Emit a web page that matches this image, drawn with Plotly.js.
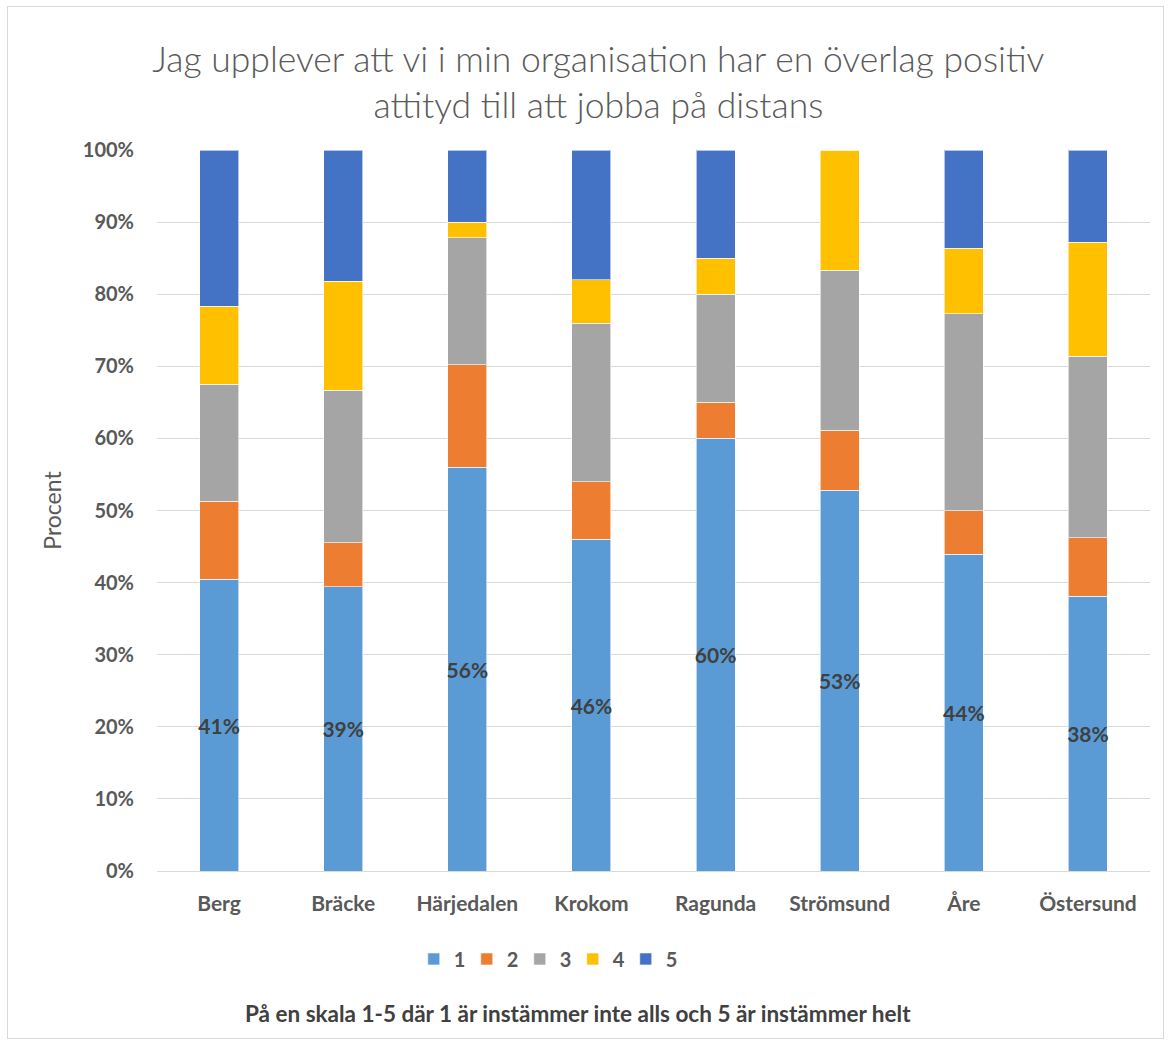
<!DOCTYPE html>
<html>
<head>
<meta charset="utf-8">
<script src="https://cdn.plot.ly/plotly-3.0.1.min.js"></script>
<style>
html,body{margin:0;padding:0;background:#fff;}
#chart{width:1171px;height:1044px;}
#frame{position:absolute;left:7px;top:6px;width:1157px;height:1033px;border:1.5px solid #D9D9D9;pointer-events:none;box-sizing:border-box;}
</style>
</head>
<body>
<div id="chart"></div>
<div id="frame"></div>
<script>
const categories = ["Berg","Bräcke","Härjedalen","Krokom","Ragunda","Strömsund","Åre","Östersund"];
const seriesNames = ["1","2","3","4","5"];
const s1 = [40.5, 39.4, 56.0, 46.0, 60.0, 52.8, 43.9, 38.1];
const s2 = [10.8, 6.1, 14.2, 8.0, 5.0, 8.3, 6.1, 8.1];
const s3 = [16.2, 21.2, 17.6, 22.0, 15.0, 22.2, 27.3, 25.2];
const s4 = [10.8, 15.1, 2.2, 6.0, 5.0, 16.7, 9.1, 15.8];
const s5 = [21.7, 18.2, 10.0, 18.0, 15.0, 0.0, 13.6, 12.8];
const colors = ["#5B9BD5","#ED7D31","#A5A5A5","#FFC000","#4472C4"];
const allSeries = [s1,s2,s3,s4,s5];

const FONT = "Lato, 'Open Sans', sans-serif";
const traces = allSeries.map((vals, i) => ({
  type: "bar",
  name: seriesNames[i],
  x: categories,
  y: vals,
  marker: {color: colors[i], line: {color: "rgba(255,255,255,0.6)", width: 1}},
  text: i === 0 ? vals.map(v => Math.round(v) + "%") : undefined,
  texttemplate: i === 0 ? "%{text}" : undefined,
  textposition: i === 0 ? "inside" : "none",
  insidetextanchor: "middle",
  constraintext: "none",
  cliponaxis: false,
  textangle: 0,
  textfont: {family: FONT, size: 21, color: "#404040", weight: "bold"},
  hoverinfo: "x+y+name"
}));

const layout = {
  width: 1171, height: 1044,
  barmode: "stack",
  bargap: 0.685,
  paper_bgcolor: "#fff", plot_bgcolor: "#fff",
  margin: {l: 157, r: 21, t: 150, b: 173},
  title: {
    text: "Jag upplever att vi i min organisation har en överlag positiv<br>attityd till att jobba på distans",
    font: {family: FONT, size: 35.5, color: "#595959", weight: 300},
    x: 0.511, xanchor: "center", y: 0.931, yanchor: "middle"
  },
  xaxis: {
    type: "category",
    tickfont: {family: FONT, size: 21, color: "#595959", weight: "bold"},
    showgrid: false, zeroline: false,
    showline: false, ticks: "", ticklabelstandoff: 18
  },
  yaxis: {
    range: [0, 100],
    tickvals: [0,10,20,30,40,50,60,70,80,90,100],
    ticktext: ["0%","10%","20%","30%","40%","50%","60%","70%","80%","90%","100%"],
    tickfont: {family: FONT, size: 20, color: "#595959", weight: "bold"},
    gridcolor: "#D9D9D9", gridwidth: 1.3,
    zeroline: true, zerolinecolor: "#D9D9D9", zerolinewidth: 1.3,
    ticks: "", ticklabelstandoff: 22,
    title: {text: "Procent", font: {family: FONT, size: 23, color: "#595959"}, standoff: 14}
  },
  showlegend: true,
  legend: {
    orientation: "h", x: 0.392, xanchor: "center", y: -0.122, yanchor: "middle",
    font: {family: FONT, size: 20, color: "#595959", weight: "bold"},
    traceorder: "normal", itemwidth: 30, itemclick: false,
    entrywidth: 8, entrywidthmode: "pixels"
  },
  annotations: [{
    text: "<b>På en skala 1-5 där 1 är instämmer inte alls och 5 är instämmer helt</b>",
    xref: "paper", yref: "paper", x: 0.424, y: -0.198, xanchor: "center", yanchor: "middle",
    showarrow: false, font: {family: FONT, size: 22.5, color: "#404040"}
  }]
};

Plotly.newPlot("chart", traces, layout, {displayModeBar: false});
</script>
</body>
</html>
